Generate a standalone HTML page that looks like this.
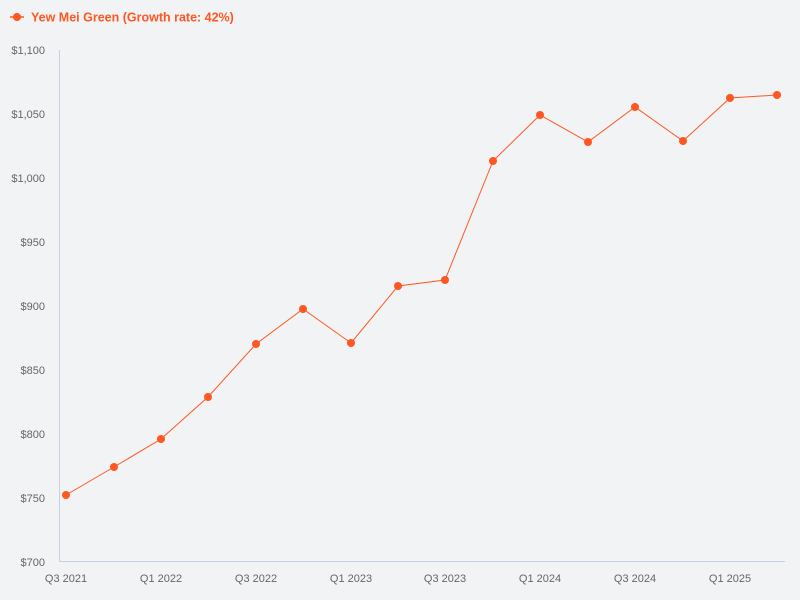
<!DOCTYPE html>
<html><head><meta charset="utf-8"><style>
body{margin:0;background:#f2f3f5;}
svg{display:block;font-family:"Liberation Sans",sans-serif;}
</style></head><body>
<svg width="800" height="600" xmlns="http://www.w3.org/2000/svg">
<rect width="800" height="600" fill="#f2f3f5"/>
<line x1="10" y1="17" x2="24" y2="17" stroke="#ff5722" stroke-width="1.5"/>
<circle cx="17" cy="17" r="4" fill="#ff5722"/>
<text x="31" y="21.5" font-size="12.5" font-weight="bold" fill="#ff5722">Yew Mei Green (Growth rate: 42%)</text>
<g font-size="11" fill="#666" text-anchor="end">
<text x="45" y="54">$1,100</text>
<text x="45" y="118">$1,050</text>
<text x="45" y="182">$1,000</text>
<text x="45" y="246">$950</text>
<text x="45" y="310">$900</text>
<text x="45" y="374">$850</text>
<text x="45" y="438">$800</text>
<text x="45" y="502">$750</text>
<text x="45" y="566">$700</text>
</g>
<g font-size="11" fill="#666" text-anchor="middle">
<text x="66" y="582">Q3 2021</text>
<text x="161" y="582">Q1 2022</text>
<text x="256" y="582">Q3 2022</text>
<text x="351" y="582">Q1 2023</text>
<text x="445" y="582">Q3 2023</text>
<text x="540" y="582">Q1 2024</text>
<text x="635" y="582">Q3 2024</text>
<text x="730" y="582">Q1 2025</text>
</g>
<line x1="59.5" y1="50" x2="59.5" y2="562" stroke="#c5d1e3"/>
<line x1="59.5" y1="561.5" x2="785" y2="561.5" stroke="#c5d1e3"/>
<polyline fill="none" stroke="#ff5722" stroke-width="1" points="66,495 114,467 161,439 208,397 256,344 303,309 351,343 398,286 445,280 493,161 540,115 588,142 635,107 683,141 730,98 777,95"/>
<g fill="#ff5722">
<circle cx="66" cy="495" r="4"/><circle cx="114" cy="467" r="4"/><circle cx="161" cy="439" r="4"/><circle cx="208" cy="397" r="4"/><circle cx="256" cy="344" r="4"/><circle cx="303" cy="309" r="4"/><circle cx="351" cy="343" r="4"/><circle cx="398" cy="286" r="4"/><circle cx="445" cy="280" r="4"/><circle cx="493" cy="161" r="4"/><circle cx="540" cy="115" r="4"/><circle cx="588" cy="142" r="4"/><circle cx="635" cy="107" r="4"/><circle cx="683" cy="141" r="4"/><circle cx="730" cy="98" r="4"/><circle cx="777" cy="95" r="4"/>
</g>
</svg>
</body></html>
